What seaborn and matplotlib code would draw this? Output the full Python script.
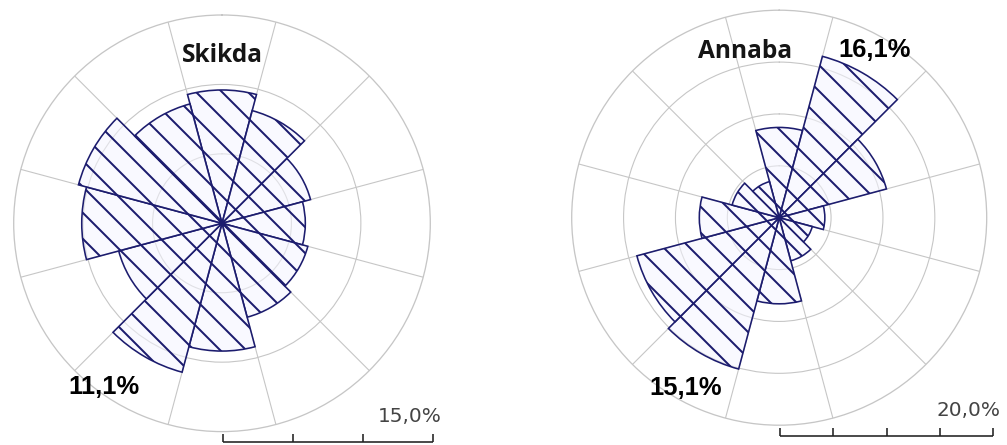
import numpy as np
import matplotlib
matplotlib.use("Agg")
import matplotlib.pyplot as plt
import seaborn as sns

sns.set_theme(style="white")

# Richtungen (Mitte der 30°-Sektoren, im Uhrzeigersinn ab Nord)
richtungen = ["N", "NNE", "ENE", "E", "ESE", "SSE", "S", "SSW", "WSW", "W", "WNW", "NNW"]
winkel_grad = [0, 30, 60, 90, 120, 150, 180, 210, 240, 270, 300, 330]

# Häufigkeiten in %
skikda = [9.6, 8.4, 6.6, 6.0, 6.4, 7.0, 9.2, 11.1, 7.7, 10.1, 10.7, 8.9]
annaba = [8.7, 16.1, 10.7, 4.4, 3.3, 4.3, 8.3, 15.1, 14.2, 7.7, 4.7, 3.6]

skikda_ringe = [5, 10, 15]
annaba_ringe = [5, 10, 15, 20]

# Figur in Pixeln denken (dpi 78 -> Schraffur-Abstand ~13 px)
W, H, DPI = 1007, 445, 78
PT = 72 / DPI  # 1 px in Punkten

fig = plt.figure(figsize=(W / DPI, H / DPI), dpi=DPI)

blau = "#1c1c6e"
grau = "#c6c6c6"

plt.rcParams["hatch.linewidth"] = 2.0 * PT


def rose(cx, cy, r, werte, ringe):
    ax = fig.add_axes([(cx - r) / W, (H - cy - r) / H, 2 * r / W, 2 * r / H],
                      projection="polar")
    ax.set_theta_zero_location("N")
    ax.set_theta_direction(-1)
    ax.set_axisbelow(True)
    ax.bar(np.radians(winkel_grad), werte, width=np.radians(30), bottom=0,
           facecolor=(0.96, 0.96, 1.0, 0.55), edgecolor=blau,
           linewidth=1.6 * PT, hatch="\\", zorder=2)
    ax.set_ylim(0, ringe[-1])
    ax.set_rgrids(ringe[:-1], labels=[])
    ax.set_thetagrids(np.arange(15, 360, 30), labels=[])
    ax.grid(True, color=grau, linewidth=1.1 * PT)
    ax.spines["polar"].set_color(grau)
    ax.spines["polar"].set_linewidth(1.3 * PT)
    ax.tick_params(length=0)
    ax.set_facecolor("none")
    return ax


ax1 = rose(222.0, 223.3, 208.3, skikda, skikda_ringe)
ax2 = rose(779.2, 217.7, 207.5, annaba, annaba_ringe)

# Overlay in Pixelkoordinaten für Texte und Maßstab
ov = fig.add_axes([0, 0, 1, 1], zorder=5)
ov.set_xlim(0, W)
ov.set_ylim(H, 0)
ov.axis("off")

titel_font = dict(family=["Open Sans", "DejaVu Sans"], fontweight="bold",
                  fontsize=24.5 * PT, color="#151515", ha="center", va="center")
prozent_font = dict(family=["Liberation Sans", "DejaVu Sans"], fontweight="bold",
                    fontsize=25.5 * PT, color="black", ha="center", va="center")
skala_font = dict(family=["DejaVu Sans"], fontsize=20 * PT, color="#444444",
                  ha="center", va="center")

ov.text(222, 56, "Skikda", **titel_font)
ov.text(745, 52, "Annaba", **titel_font)
ov.text(104, 387, "11,1%", **prozent_font)
ov.text(686, 388, "15,1%", **prozent_font)
ov.text(875, 50, "16,1%", **prozent_font)
ov.text(410, 416, "15,0%", **skala_font)
ov.text(968, 410, "20,0%", **skala_font)


def massstab(x0, px_pro_prozent, y, ringe):
    xs = [x0] + [x0 + v * px_pro_prozent for v in ringe]
    ov.plot([xs[0], xs[-1]], [y, y], color="#222222", linewidth=1.6 * PT,
            solid_capstyle="butt")
    for x in xs:
        ov.plot([x, x], [y, y - 8], color="#222222", linewidth=1.6 * PT,
                solid_capstyle="butt")


massstab(223.3, 70 / 5, 441.5, skikda_ringe)
massstab(780.0, 53.3 / 5, 436.0, annaba_ringe)

fig.savefig("out.png", dpi=DPI)
